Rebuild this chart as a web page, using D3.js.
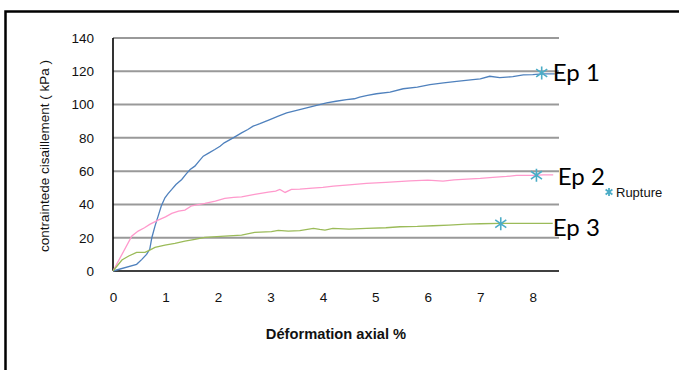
<!DOCTYPE html>
<html><head><meta charset="utf-8">
<script src="https://cdn.jsdelivr.net/npm/d3@7"></script>
<style>body{margin:0;background:#fff}svg{display:block}</style>
</head><body>
<svg id="c" width="679" height="370"></svg>
<script>
const xTicks = [0,1,2,3,4,5,6,7,8];
const yTicks = [0,20,40,60,80,100,120,140];
const ep1X = [0,0.45,0.55,0.64,0.7,0.74,0.8,0.86,0.92,0.99,1.05,1.12,1.2,1.31,1.4,1.47,1.56,1.64,1.72,1.83,1.94,2.04,2.12,2.29,2.45,2.57,2.67,2.8,2.99,3.15,3.31,3.5,3.69,3.88,4.07,4.25,4.45,4.6,4.7,4.85,5.02,5.28,5.53,5.8,6.04,6.3,6.55,6.86,7.0,7.18,7.37,7.62,7.82,8.0,8.18,8.42];
const ep1Y = [0,4,7,10,13,20,27,33,39,44,46.5,49,52,55,58.5,61,63,66,69,71,73,75,77,80,83,85,87,88.5,91,93,95,96.5,98,99.5,101,102,103,103.5,104.5,105.5,106.5,107.5,109.5,110.5,112,113,114,115,115.5,117,116.2,116.8,117.8,118,118.5,118.5];
const ep2X = [0,0.36,0.48,0.6,0.7,0.86,1.0,1.12,1.25,1.37,1.5,1.75,1.95,2.13,2.3,2.45,2.7,2.96,3.1,3.18,3.28,3.4,3.56,3.8,4.0,4.2,4.5,4.83,5.2,5.66,6.0,6.29,6.5,6.74,7.0,7.24,7.5,7.69,8.01,8.2,8.39];
const ep2Y = [0,21,24,26,28,30.6,32.5,34.6,36,36.6,39.2,40.6,42,43.6,44.2,44.6,46,47.4,48,49,47.2,49,49.2,49.8,50.3,51,51.8,52.6,53.2,54.2,54.6,54,54.8,55.2,55.6,56.2,56.8,57.4,57.4,57.8,57.8];
const ep3X = [0,0.17,0.3,0.45,0.61,0.7,0.8,0.99,1.18,1.37,1.56,1.75,2.13,2.45,2.7,3.02,3.15,3.34,3.56,3.82,3.94,4.04,4.19,4.5,4.83,5.2,5.47,5.8,6.1,6.4,6.74,7.0,7.37,7.6,8.01,8.38];
const ep3Y = [0,6.6,9,11.2,11.2,12.5,14.2,15.6,16.6,18,19,20.2,21,21.6,23.2,23.6,24.4,24,24.2,25.6,25,24.6,25.6,25.2,25.6,26,26.6,26.8,27.2,27.6,28.2,28.4,28.6,28.6,28.6,28.6];
const seriesNames = ["Ep 1","Ep 2","Ep 3"];
const ruptX = [8.17,8.07,7.39];
const ruptY = [119,57.6,28.4];
const legendLabel = "Rupture";
const xTitle = "Déformation axial %";
const yTitle = "contraintede cisaillement ( kPa )";

const svg = d3.select("#c");
const x = d3.scaleLinear().domain([0,8.5]).range([113,559]);
const y = d3.scaleLinear().domain([0,140]).range([271,38]);

// outer frame
svg.append("path").attr("d","M5.5,375 L5.5,11.5 L690,11.5").attr("fill","none").attr("stroke","#000").attr("stroke-width",2.5);

// gridlines
svg.append("g").selectAll("line").data(yTicks.filter(d=>d>0)).join("line")
  .attr("x1",x(0)).attr("x2",x(8.5)).attr("y1",d=>y(d)).attr("y2",d=>y(d))
  .attr("stroke","#999").attr("stroke-width",2);

// axes
const yAxis = svg.append("g").attr("transform",`translate(${x(0)},0)`)
  .call(d3.axisLeft(y).tickValues(yTicks).tickSize(0).tickPadding(19).tickFormat(d3.format("d")));
const xAxis = svg.append("g").attr("transform",`translate(0,${y(0)})`)
  .call(d3.axisBottom(x).tickValues(xTicks).tickSize(0).tickPadding(21).tickFormat(d3.format("d")));
[xAxis,yAxis].forEach(a=>{
  a.select(".domain").attr("stroke","#000").attr("stroke-width",1.6);
  a.selectAll("text").attr("font-family","Liberation Sans, Arial, sans-serif").attr("font-size",13.5).attr("fill","#111");
});
xAxis.select(".domain").attr("d",`M${x(0)},0H${x(8.5)}`);
yAxis.select(".domain").attr("d",`M0,${y(0)}V${y(140)}`);

// series
const colors = ["#4f81bd","#ff99cc","#9bbb59"];
const data = [[ep1X,ep1Y],[ep2X,ep2Y],[ep3X,ep3Y]];
const line = d3.line().x(d=>x(d[0])).y(d=>y(d[1]));
data.forEach(([xs,ys],i)=>{
  svg.append("path").datum(xs.map((v,j)=>[v,ys[j]]))
    .attr("d",line).attr("fill","none").attr("stroke",colors[i]).attr("stroke-width",1.3);
});

// star markers
function star(g, cx, cy, r, w){
  const a = r*0.85, b = r*0.6;
  g.append("path").attr("d",`M${cx},${cy-r}V${cy+r}M${cx-a},${cy-b}L${cx+a},${cy+b}M${cx-a},${cy+b}L${cx+a},${cy-b}`)
    .attr("stroke","#4bacc6").attr("stroke-width",w).attr("fill","none");
}
const mg = svg.append("g");
ruptX.forEach((v,i)=>star(mg, x(v), y(ruptY[i]), 6.5, 1.6));

// Ep labels
const labelDx = [-2,3,-2];
const labelY = [81,185,236];
seriesNames.forEach((n,i)=>{
  svg.append("text").attr("x",x(8.42)+labelDx[i]).attr("y",labelY[i])
    .attr("font-family","Lato, 'Open Sans', sans-serif").attr("font-size",24).attr("fill","#000").text(n);
});

// legend
star(svg, 609, 192, 4, 1.8);
svg.append("text").attr("x",616).attr("y",196.5).attr("font-family","Liberation Sans, Arial, sans-serif")
  .attr("font-size",13).attr("fill","#111").text(legendLabel);

// titles
svg.append("text").attr("x",336).attr("y",339).attr("text-anchor","middle")
  .attr("font-family","Liberation Sans, Arial, sans-serif").attr("font-weight","bold").attr("font-size",14.7).attr("fill","#111").text(xTitle);
svg.append("text").attr("transform","translate(49,156) rotate(-90)").attr("text-anchor","middle")
  .attr("font-family","Liberation Sans, Arial, sans-serif").attr("font-size",13.5).attr("fill","#111").text(yTitle);
</script>
</body></html>
